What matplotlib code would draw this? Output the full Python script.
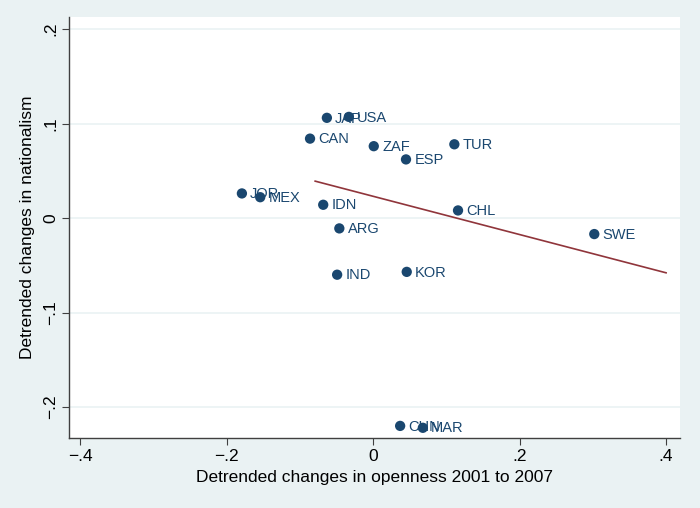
import numpy as np
import matplotlib
matplotlib.use("Agg")
import matplotlib.pyplot as plt

plt.rcParams['font.family'] = ['Liberation Sans', 'DejaVu Sans']

countries = ["JAP", "USA", "CAN", "ZAF", "ESP", "TUR", "JOR", "MEX", "IDN",
             "CHL", "ARG", "SWE", "IND", "KOR", "CHN", "MAR"]
openness = [-0.063, -0.033, -0.086, 0.001, 0.045, 0.111, -0.179, -0.154, -0.068,
            0.116, -0.046, 0.302, -0.049, 0.046, 0.037, 0.068]
nationalism = [0.106, 0.107, 0.084, 0.076, 0.062, 0.078, 0.026, 0.022, 0.014,
               0.008, -0.011, -0.017, -0.060, -0.057, -0.220, -0.222]

# fitted line end points
fit_x = [-0.079, 0.4]
fit_y = [0.039, -0.058]

bg = "#eaf2f3"
navy = "#1a476f"
maroon = "#90353b"

fig = plt.figure(figsize=(7, 5.08), dpi=100, facecolor=bg)
ax = fig.add_axes([69 / 700, 70 / 508, 611 / 700, 421 / 508])
ax.set_facecolor("white")

ax.set_xlim(-0.415, 0.419)
ax.set_ylim(-0.2328, 0.2127)

ax.set_yticks([-0.2, -0.1, 0, 0.1, 0.2])
ax.set_xticks([-0.4, -0.2, 0, 0.2, 0.4])
ax.set_yticklabels(["\u2212.2", "\u2212.1", "0", ".1", ".2"], rotation=90, va="center")
ax.set_xticklabels(["\u2212.4", "\u2212.2", "0", ".2", ".4"])
ax.grid(axis="y", color=bg, linewidth=1.2)
ax.set_axisbelow(True)

for s in ["top", "right"]:
    ax.spines[s].set_visible(False)
for s in ["left", "bottom"]:
    ax.spines[s].set_color("#404040")
    ax.spines[s].set_linewidth(1.0)
ax.tick_params(direction="out", length=5, color="#404040", labelsize=12.5, pad=3)

ax.plot(fit_x, fit_y, color=maroon, linewidth=1.2, zorder=2)
ax.scatter(openness, nationalism, s=55, color=navy, zorder=3, edgecolors="none")
for c, x, y in zip(countries, openness, nationalism):
    ax.annotate(c, (x, y), xytext=(6, -0.5), textcoords="offset points",
                va="center", ha="left", fontsize=10.5, color=navy, zorder=4)

ax.set_xlabel("Detrended changes in openness 2001 to 2007", fontsize=12.5, labelpad=4)
ax.set_ylabel("Detrended changes in nationalism", fontsize=12.5, labelpad=6)

fig.savefig("out.png", dpi=100, facecolor=bg)
